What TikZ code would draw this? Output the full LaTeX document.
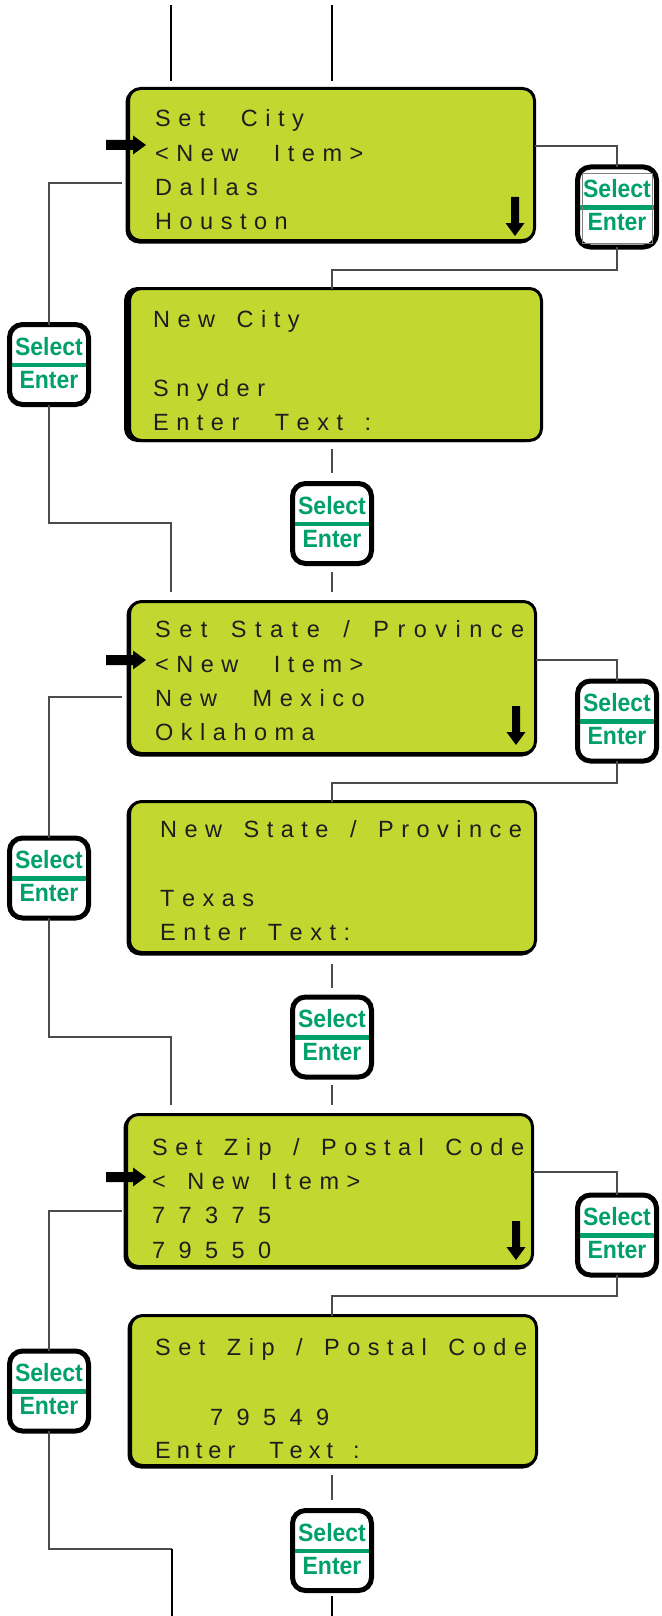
\documentclass[tikz,border=0pt]{standalone}
\usepackage{fontspec}
\setmainfont{Liberation Sans}
\newfontfamily\btnfont[FakeStretch=0.92]{Liberation Sans Bold}
\usetikzlibrary{calc}
\definecolor{lcd}{RGB}{194,215,47}
\definecolor{lcdink}{RGB}{30,30,30}
\definecolor{btngreen}{RGB}{0,160,105}
\definecolor{connc}{RGB}{75,75,75}
\ExplSyntaxOn
\NewDocumentCommand \trk { m m m }
 {
  \str_map_inline:nn {#3}
   {
     \str_if_eq:nnTF {##1} {|}
       { \hspace{#2} }
       { ##1 \kern #1 \relax }
   }
 }
\ExplSyntaxOff
\newcommand\lcdt[1]{\trk{7.5pt}{14pt}{#1}}
\newcommand\lcdw[1]{\trk{8.5pt}{15pt}{#1}}
\newcommand\lcdc[1]{\trk{6pt}{14pt}{#1}}
\newcommand\lcdn[1]{\trk{13.4pt}{0pt}{#1}}
\newcommand\selbtn[2]{%
  \node[button] (#1) at (#2) {};
  \draw[bar] ($(#1)+(-37,0.5)$) -- ($(#1)+(37,0.5)$);
  \node[btntext] (#1s) at ($(#1)+(0,-9.5)$) {Select};
  \node[btntext] (#1e) at ($(#1)+(0,23.5)$) {Enter};}
\newcommand\ptrarrow[1]{%
  \fill[black] (106,#1) ++(0,-5) -- ++(27,0) -- ++(0,-4.5) -- ++(13,9.5) -- ++(-13,9.5) -- ++(0,-4.5) -- ++(-27,0) -- cycle;}
\newcommand\dnarrow[2]{%
  \fill[black] (#1,#2) ++(-4,0) -- ++(8,0) -- ++(0,26) -- ++(5.5,0) -- ++(-9.5,13) -- ++(-9.5,-13) -- ++(5.5,0) -- cycle;}
\begin{document}
\begin{tikzpicture}[x=1pt,y=-1pt,
  screen/.style={draw=black,line width=3pt,fill=lcd,rounded corners=12pt,inner sep=0pt,outer sep=0pt},
  shade/.style={draw=black,line width=3pt,fill=black,rounded corners=12pt,inner sep=0pt,outer sep=0pt},
  button/.style={draw=black,line width=5pt,fill=white,rounded corners=13pt,minimum width=79pt,minimum height=80pt,inner sep=0pt,outer sep=0pt},
  lcdtext/.style={anchor=base west,inner sep=0pt,text=lcdink,font=\fontsize{23.5}{23.5}\selectfont},
  btntext/.style={anchor=base,inner sep=0pt,text=btngreen,font=\btnfont\fontsize{25}{25}\selectfont},
  bar/.style={draw=btngreen,line width=4.5pt},
  conn/.style={draw=connc,line width=1.2pt},
  trunk/.style={draw=black,line width=2.7pt}]
\useasboundingbox (0,0) rectangle (661,1616);

% ---- top trunks
\coordinate (ta1) at (171,5); \coordinate (ta2) at (171,81);
\coordinate (tb1) at (332,5); \coordinate (tb2) at (332,81);
\draw[trunk] (ta1) -- (ta2);
\draw[trunk] (tb1) -- (tb2);

% ---- screens (shadows first)
\node[shade,minimum width=406pt,minimum height=152pt] (s1h) at (330,166) {};
\node[screen,minimum width=406pt,minimum height=152pt] (s1) at (331.5,164.5) {};
\node[shade,minimum width=412pt,minimum height=152pt] (s2h) at (331.5,364.5) {};
\node[screen,minimum width=412pt,minimum height=152pt] (s2) at (335.5,364.5) {};
\node[shade,minimum width=406pt,minimum height=152pt] (s3h) at (331,679) {};
\node[screen,minimum width=406pt,minimum height=152pt] (s3) at (332.5,677.5) {};
\node[shade,minimum width=406pt,minimum height=151pt] (s4h) at (331,878.5) {};
\node[screen,minimum width=406pt,minimum height=151pt] (s4) at (332.5,877) {};
\node[shade,minimum width=406pt,minimum height=152pt] (s5h) at (328,1192) {};
\node[screen,minimum width=406pt,minimum height=152pt] (s5) at (329.5,1190.5) {};
\node[shade,minimum width=406pt,minimum height=150pt] (s6h) at (332,1392) {};
\node[screen,minimum width=406pt,minimum height=150pt] (s6) at (333.5,1390.5) {};

% ---- screen texts  (| marks one character-wide space)
\node[lcdtext] (t1a) at (155,126.2) {\lcdt{Set||City}};
\node[lcdtext] (t1b) at (155,161.7) {\lcdt{<New||Item>}};
\node[lcdtext] (t1c) at (155,195.2) {\lcdt{Dallas}};
\node[lcdtext] (t1d) at (155,229.2) {\lcdt{Houston}};

\node[lcdtext] (t2a) at (153,327.2) {\lcdt{New|City}};
\node[lcdtext] (t2c) at (153,396.2) {\lcdt{Snyder}};
\node[lcdtext] (t2d) at (153,430.2) {\lcdt{Enter||Text|:}};

\node[lcdtext] (t3a) at (155,637.2) {\lcdw{Set|State|/|Province}};
\node[lcdtext] (t3b) at (155,672.2) {\lcdt{<New||Item>}};
\node[lcdtext] (t3c) at (155,706.2) {\lcdt{New||Mexico}};
\node[lcdtext] (t3d) at (155,740.2) {\lcdt{Oklahoma}};

\node[lcdtext] (t4a) at (160,837.2) {\lcdt{New|State|/|Province}};
\node[lcdtext] (t4c) at (160,906.2) {\lcdt{Texas}};
\node[lcdtext] (t4d) at (160,940.2) {\lcdt{Enter|Text:}};

\node[lcdtext] (t5a) at (152,1155.2) {\lcdt{Set|Zip|/|Postal|Code}};
\node[lcdtext] (t5b) at (152,1189.2) {\lcdt{<|New|Item>}};
\node[lcdtext] (t5c) at (152,1223.2) {\lcdn{77375}};
\node[lcdtext] (t5d) at (152,1258.2) {\lcdn{79550}};

\node[lcdtext] (t6a) at (155,1355.7) {\lcdt{Set|Zip|/|Postal|Code}};
\node[lcdtext] (t6c) at (210,1425.2) {\lcdn{79549}};
\node[lcdtext] (t6d) at (155,1458.7) {\lcdc{Enter||Text|:}};

% ---- pointer and scroll arrows
\ptrarrow{145}
\ptrarrow{660}
\ptrarrow{1177}
\dnarrow{515}{197}
\dnarrow{516}{706}
\dnarrow{516}{1221}

% ---- buttons
\selbtn{r1}{617,207}
\draw[gray,line width=0.8pt] ($(r1)+(-35,-34)$) rectangle ($(r1)+(35,36)$);
\selbtn{l1}{49,364.5}
\selbtn{m1}{332,523.5}
\selbtn{r2}{617,721}
\selbtn{l2}{49,878}
\selbtn{m2}{332,1037}
\selbtn{r3}{617,1235}
\selbtn{l3}{49,1391}
\selbtn{m3}{332,1550.5}

% ---- connectors block 1
\coordinate (r1a) at (617,146);
\coordinate (r1b) at (617,270);
\coordinate (r1c) at (332,270);
\draw[conn] (s1.east |- r1a) -- (r1a) -- (r1.north);
\draw[conn] (r1.south) -- (r1b) -- (r1c) -- (r1c |- s2.north);
\coordinate (l1a) at (122,183);
\coordinate (l1b) at (49,183);
\coordinate (l1c) at (49,523);
\coordinate (l1d) at (171,523);
\coordinate (l1e) at (171,592);
\draw[conn] (l1a) -- (l1b) -- (l1.north);
\draw[conn] (l1.south) -- (l1c) -- (l1d) -- (l1e);
\coordinate (m1a) at (332,449); \coordinate (m1b) at (332,473);
\coordinate (m1c) at (332,572); \coordinate (m1d) at (332,592);
\draw[conn] (m1a) -- (m1b);
\draw[conn] (m1c) -- (m1d);

% ---- connectors block 2
\coordinate (r2a) at (617,660);
\coordinate (r2b) at (617,783);
\coordinate (r2c) at (332,783);
\draw[conn] (s3.east |- r2a) -- (r2a) -- (r2.north);
\draw[conn] (r2.south) -- (r2b) -- (r2c) -- (r2c |- s4.north);
\coordinate (l2a) at (122,697);
\coordinate (l2b) at (49,697);
\coordinate (l2c) at (49,1037);
\coordinate (l2d) at (171,1037);
\coordinate (l2e) at (171,1105);
\draw[conn] (l2a) -- (l2b) -- (l2.north);
\draw[conn] (l2.south) -- (l2c) -- (l2d) -- (l2e);
\coordinate (m2a) at (332,964); \coordinate (m2b) at (332,988);
\coordinate (m2c) at (332,1085); \coordinate (m2d) at (332,1105);
\draw[conn] (m2a) -- (m2b);
\draw[conn] (m2c) -- (m2d);

% ---- connectors block 3
\coordinate (r3a) at (617,1172);
\coordinate (r3b) at (617,1296);
\coordinate (r3c) at (332,1296);
\draw[conn] (s5.east |- r3a) -- (r3a) -- (r3.north);
\draw[conn] (r3.south) -- (r3b) -- (r3c) -- (r3c |- s6.north);
\coordinate (l3a) at (122,1211);
\coordinate (l3b) at (49,1211);
\coordinate (l3c) at (49,1549);
\coordinate (l3d) at (172,1549);
\coordinate (l3e) at (172,1616);
\draw[conn] (l3a) -- (l3b) -- (l3.north);
\draw[conn] (l3.south) -- (l3c) -- (l3d);
\draw[trunk] (l3d) -- (l3e);
\coordinate (m3a) at (332,1475); \coordinate (m3b) at (332,1500);
\coordinate (m3c) at (332,1596); \coordinate (m3d) at (332,1616);
\draw[conn] (m3a) -- (m3b);
\draw[trunk] (m3c) -- (m3d);
\end{tikzpicture}
\end{document}
